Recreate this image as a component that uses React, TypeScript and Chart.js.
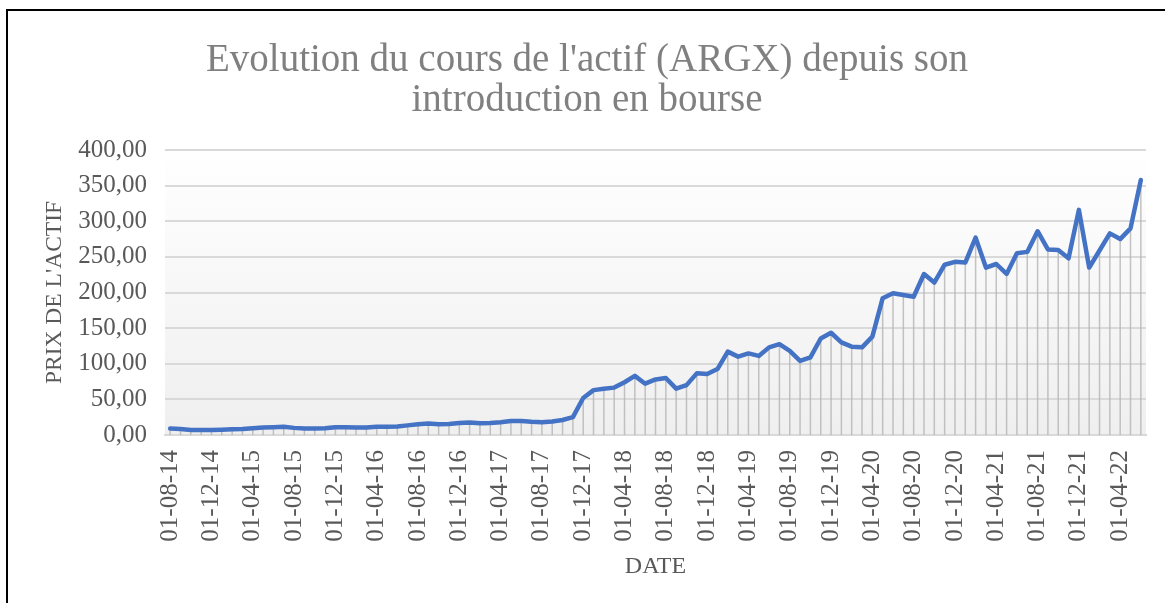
import React, { useEffect, useRef } from "react";
import { Chart, registerables } from "chart.js";

Chart.register(...registerables);

const categories: string[] = [
  "01-08-14", "01-09-14", "01-10-14", "01-11-14", "01-12-14",
  "01-01-15", "01-02-15", "01-03-15", "01-04-15", "01-05-15", "01-06-15", "01-07-15", "01-08-15", "01-09-15", "01-10-15", "01-11-15", "01-12-15",
  "01-01-16", "01-02-16", "01-03-16", "01-04-16", "01-05-16", "01-06-16", "01-07-16", "01-08-16", "01-09-16", "01-10-16", "01-11-16", "01-12-16",
  "01-01-17", "01-02-17", "01-03-17", "01-04-17", "01-05-17", "01-06-17", "01-07-17", "01-08-17", "01-09-17", "01-10-17", "01-11-17", "01-12-17",
  "01-01-18", "01-02-18", "01-03-18", "01-04-18", "01-05-18", "01-06-18", "01-07-18", "01-08-18", "01-09-18", "01-10-18", "01-11-18", "01-12-18",
  "01-01-19", "01-02-19", "01-03-19", "01-04-19", "01-05-19", "01-06-19", "01-07-19", "01-08-19", "01-09-19", "01-10-19", "01-11-19", "01-12-19",
  "01-01-20", "01-02-20", "01-03-20", "01-04-20", "01-05-20", "01-06-20", "01-07-20", "01-08-20", "01-09-20", "01-10-20", "01-11-20", "01-12-20",
  "01-01-21", "01-02-21", "01-03-21", "01-04-21", "01-05-21", "01-06-21", "01-07-21", "01-08-21", "01-09-21", "01-10-21", "01-11-21", "01-12-21",
  "01-01-22", "01-02-22", "01-03-22", "01-04-22", "01-05-22", "01-06-22",
];

const prices: number[] = [
  9, 8.5, 7, 7, 7, 7.5, 8, 8.5, 9.5, 10.5, 11, 11.5, 10, 9, 9, 9.5, 11, 11, 10.5, 10.5, 11.5,
  11.5, 12, 13.5, 15, 16, 15, 15.5, 17, 17.5, 16.5, 17, 18, 19.5, 19.5, 18.5, 18, 19, 21, 25,
  52, 63, 65, 66.5, 74, 83, 72, 78, 80, 65,
  70, 86.5, 85.5, 92.5, 117, 110, 114.5, 111, 123, 127.5,
  118, 104, 109, 135.5, 143.5, 130, 124, 123, 138, 192,
  199, 196.5, 194, 226, 214, 239, 243, 242, 277, 235,
  240, 226, 255, 257, 286, 260.5, 259.5, 248, 316, 235,
  259, 283, 275, 290, 358,
];

const titleLines: string[] = ["Evolution du cours de l'actif (ARGX) depuis son", "introduction en bourse"];
const yTitle = "PRIX DE L'ACTIF";
const xTitle = "DATE";
const labelEvery = 4;

const FONT = "'Liberation Serif', 'Times New Roman', serif";

const bgPlugin = {
  id: "plotBg",
  beforeDraw(chart: any) {
    const { ctx, chartArea } = chart;
    if (!chartArea) return;
    const g = ctx.createLinearGradient(0, chartArea.top, 0, chartArea.bottom);
    g.addColorStop(0, "#ffffff");
    g.addColorStop(1, "#efefef");
    ctx.save();
    ctx.fillStyle = g;
    ctx.fillRect(chartArea.left, chartArea.top, chartArea.right - chartArea.left, chartArea.bottom - chartArea.top);
    ctx.restore();
  },
  afterDraw(chart: any) {
    const { ctx } = chart;
    ctx.save();
    ctx.strokeStyle = "#000000";
    ctx.lineWidth = 2;
    ctx.beginPath();
    ctx.moveTo(7, chart.height);
    ctx.lineTo(7, 10);
    ctx.lineTo(chart.width, 10);
    ctx.stroke();
    ctx.restore();
  },
};

const dropPlugin = {
  id: "dropLines",
  beforeDatasetsDraw(chart: any) {
    const { ctx, chartArea } = chart;
    const meta = chart.getDatasetMeta(0);
    ctx.save();
    ctx.strokeStyle = "rgba(180,180,180,0.8)";
    ctx.lineWidth = 1.5;
    meta.data.forEach((pt: any) => {
      ctx.beginPath();
      ctx.moveTo(pt.x, pt.y);
      ctx.lineTo(pt.x, chartArea.bottom);
      ctx.stroke();
    });
    ctx.restore();
  },
};

export default function App() {
  const ref = useRef<HTMLCanvasElement | null>(null);
  useEffect(() => {
    if (!ref.current) return;
    const chart = new Chart(ref.current, {
      type: "line",
      data: {
        labels: categories,
        datasets: [
          {
            data: prices,
            borderColor: "#4472c4",
            borderWidth: 4.5,
            pointRadius: 0,
            tension: 0,
            fill: false,
            borderJoinStyle: "round",
            borderCapStyle: "round",
          },
        ],
      },
      options: {
        animation: false,
        responsive: false,
        maintainAspectRatio: false,
        layout: { padding: { left: 28, right: 19, top: 0, bottom: 0 } },
        plugins: {
          legend: { display: false },
          tooltip: { enabled: false },
          title: {
            display: true,
            text: titleLines,
            color: "#808080",
            font: { family: FONT, size: 39, weight: "normal", lineHeight: "40px" },
            padding: { top: 41, bottom: 29 },
          },
        },
        scales: {
          x: {
            offset: true,
            grid: { display: false, drawTicks: false },
            border: { display: true, color: "#d9d9d9", width: 2 },
            ticks: {
              autoSkip: false,
              maxRotation: 90,
              minRotation: 90,
              padding: 15,
              color: "#595959",
              font: { family: FONT, size: 25 },
              callback: (_v: any, i: number) => (i % labelEvery === 0 ? categories[i] : ""),
            },
            title: {
              display: true,
              text: xTitle,
              color: "#595959",
              font: { family: FONT, size: 24 },
              padding: { top: 0, bottom: 22 },
            },
            afterFit: (s: any) => {
              s.height = 168;
              s.paddingLeft = 0;
              s.paddingRight = 0;
            },
          },
          y: {
            min: 0,
            max: 400,
            grid: { color: "#d9d9d9", lineWidth: 2, drawTicks: false },
            border: { display: false },
            ticks: {
              stepSize: 50,
              padding: 18,
              color: "#595959",
              font: { family: FONT, size: 25 },
              callback: (v: any) => Number(v).toFixed(2).replace(".", ","),
            },
            title: {
              display: true,
              text: yTitle,
              color: "#595959",
              font: { family: FONT, size: 23.5 },
              padding: { top: 13, bottom: 0 },
            },
            afterFit: (s: any) => {
              s.width = 137;
              s.paddingTop = 0;
              s.paddingBottom = 0;
            },
          },
        },
      },
      plugins: [bgPlugin, dropPlugin],
    } as any);
    return () => chart.destroy();
  }, []);

  return (
    <div style={{ position: "fixed", left: 0, top: 0, width: 1165, height: 603, overflow: "hidden", background: "#ffffff" }}>
      <canvas ref={ref} width={1165} height={603} style={{ position: "absolute", left: 0, top: 0, width: 1165, height: 603 }} />
    </div>
  );
}
